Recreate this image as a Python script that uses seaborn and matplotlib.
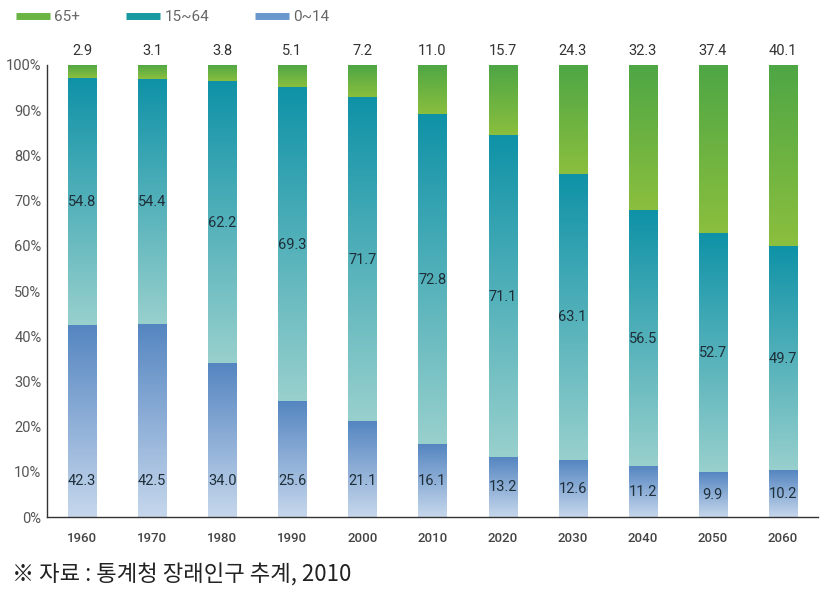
import numpy as np
import pandas as pd
import seaborn as sns
import matplotlib.pyplot as plt
import matplotlib.colors as mcolors
from matplotlib.lines import Line2D

years = ["1960", "1970", "1980", "1990", "2000", "2010",
         "2020", "2030", "2040", "2050", "2060"]
age_0_14 = [42.3, 42.5, 34.0, 25.6, 21.1, 16.1, 13.2, 12.6, 11.2, 9.9, 10.2]
age_15_64 = [54.8, 54.4, 62.2, 69.3, 71.7, 72.8, 71.1, 63.1, 56.5, 52.7, 49.7]
age_65 = [2.9, 3.1, 3.8, 5.1, 7.2, 11.0, 15.7, 24.3, 32.3, 37.4, 40.1]
series_names = ["65+", "15~64", "0~14"]

# gradient colours per segment: (top, bottom)
grad = {
    "65+": ("#4ea645", "#8bbf3e"),
    "15~64": ("#0f92a7", "#98d0cd"),
    "0~14": ("#5586c1", "#c6d7ec"),
}
legend_colors = {"65+": "#6ab443", "15~64": "#17999f", "0~14": "#6b98cc"}

sns.set_style("white")
plt.rcParams["font.family"] = ["Roboto", "DejaVu Sans"]

df = pd.DataFrame({"year": years, "low": age_0_14, "mid": age_15_64, "top": age_65})
df["c1"] = df["low"]
df["c2"] = df["low"] + df["mid"]
df["c3"] = 100.0

fig = plt.figure(figsize=(8.3, 5.95), dpi=100)
ax = fig.add_axes([0.0566, 0.131, 0.9289, 0.7598])

# stacked bars drawn as overlapping cumulative totals
layers = [("c3", "c2", "65+"), ("c2", "c1", "15~64"), ("c1", None, "0~14")]
for hi_col, lo_col, name in layers:
    sns.barplot(data=df, x="year", y=hi_col, color=legend_colors[name],
                width=0.4, ax=ax, saturation=1)

# replace flat fills with vertical gradients
n = len(years)
patches = ax.patches
for li, (hi_col, lo_col, name) in enumerate(layers):
    top_c = np.array(mcolors.to_rgb(grad[name][0]))
    bot_c = np.array(mcolors.to_rgb(grad[name][1]))
    t = np.linspace(0, 1, 128)[:, None]
    img = (top_c * (1 - t) + bot_c * t)[:, None, :]
    for i in range(n):
        p = patches[li * n + i]
        p.set_visible(False)
        x0 = p.get_x()
        x1 = x0 + p.get_width()
        hi = df[hi_col].iloc[i]
        lo = df[lo_col].iloc[i] if lo_col else 0.0
        ax.imshow(img, extent=(x0, x1, lo, hi), origin="upper",
                  aspect="auto", zorder=2, interpolation="bilinear")

ax.set_xlim(-0.5, n - 0.5)
ax.set_ylim(0, 100)

# value labels
for i in range(n):
    ax.text(i, 101.5, f"{age_65[i]:.1f}", ha="center", va="bottom",
            fontsize=10.5, color="#333333", clip_on=False, zorder=5)
    mid_y = age_0_14[i] + age_15_64[i] / 2
    ax.text(i, mid_y, f"{age_15_64[i]:.1f}", ha="center", va="center",
            fontsize=10.5, color="#1f2f3a", zorder=5)
    low_y = min(age_0_14[i] / 2, 8)
    ax.text(i, low_y, f"{age_0_14[i]:.1f}", ha="center", va="center",
            fontsize=10.5, color="#1f2f3a", zorder=5)

# axes styling
sns.despine(ax=ax, top=True, right=True)
for s in ["left", "bottom"]:
    ax.spines[s].set_color("#333333")
    ax.spines[s].set_linewidth(1.0)
ax.set_yticks(np.arange(0, 101, 10))
ax.set_yticklabels([f"{v}%" for v in range(0, 101, 10)], fontsize=10.5, color="#555555")
ax.tick_params(axis="y", direction="out", length=3, width=1, color="#333333", pad=1)
ax.set_xticks(np.arange(-0.5, n, 1.0))
ax.set_xticklabels([])
ax.tick_params(axis="x", direction="out", length=6, width=1, color="#333333")
for i, yr in enumerate(years):
    ax.text(i, -3.2, yr, ha="center", va="top", fontsize=9.5, color="#444444",
            fontweight="medium", clip_on=False)
ax.set_xlabel("")
ax.set_ylabel("")

handles = [Line2D([0], [0], color=legend_colors[s], lw=5, solid_capstyle="butt")
           for s in series_names]
fig.legend(handles, series_names, loc="upper left", bbox_to_anchor=(0.003, 1.006),
           ncol=3, frameon=False, handlelength=2.2, handletextpad=0.3,
           columnspacing=3.0, fontsize=11, labelcolor="#666666")

fig.text(0.015, 0.022, "※ 자료 : 통계청 장래인구 추계, 2010", fontsize=16,
         color="#222222", family=["Noto Sans CJK KR", "DejaVu Sans"])

fig.savefig("out.png", dpi=100)
